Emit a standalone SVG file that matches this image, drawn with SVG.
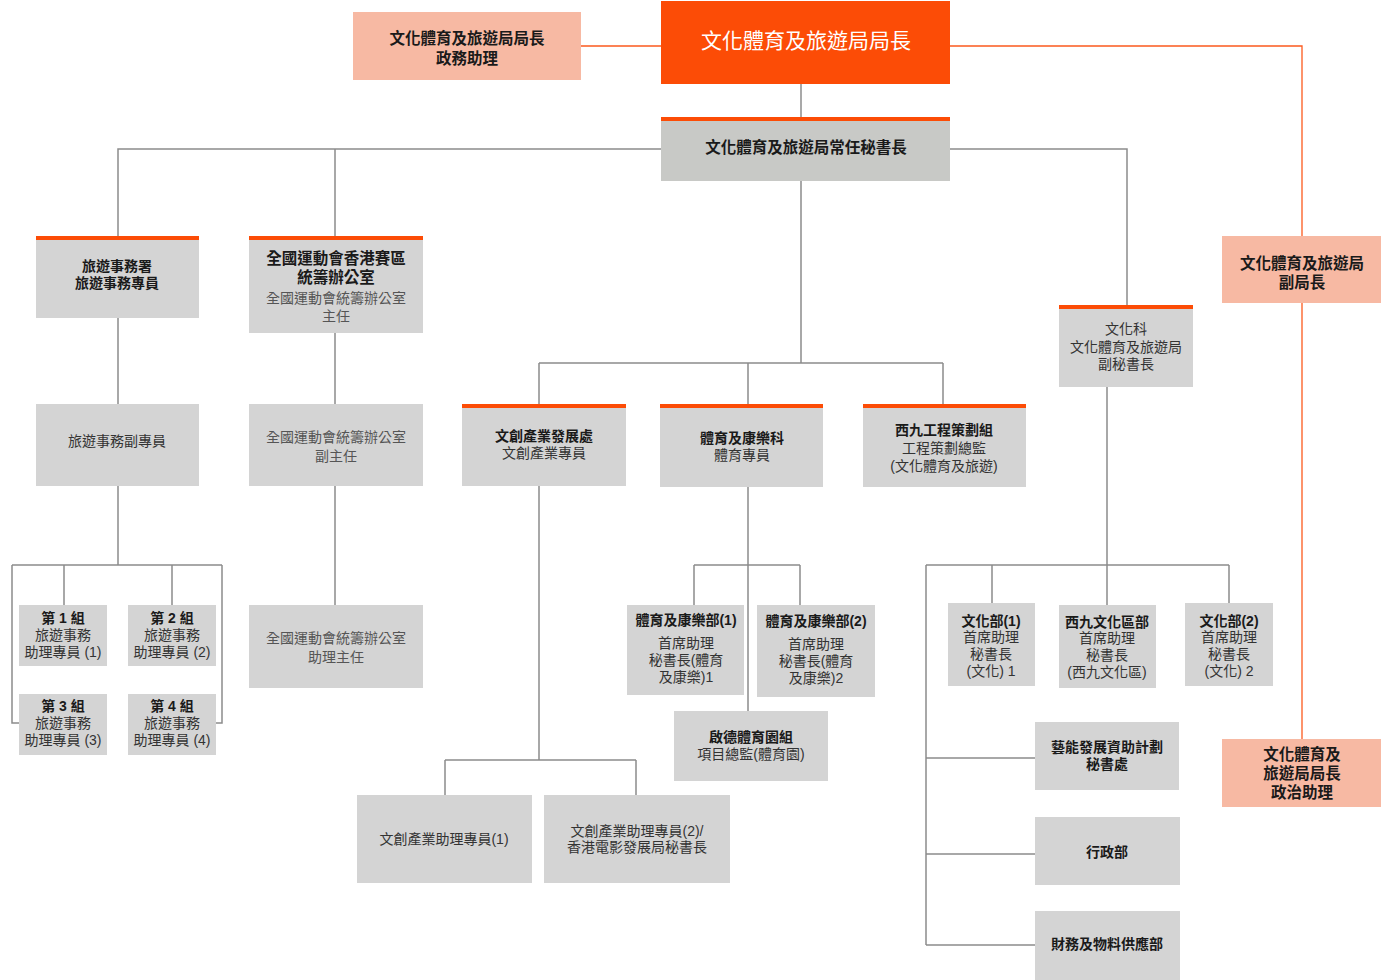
<svg xmlns="http://www.w3.org/2000/svg" width="1400" height="980" viewBox="0 0 1400 980">
<style>
text{font-family:"Liberation Sans","Noto Sans CJK TC",sans-serif;text-anchor:middle;font-size:14px;fill:#333}
.b{font-weight:bold;fill:#1a1a1a}
.l{fill:#555}
.w{fill:#fff;font-size:21px}
.big{font-size:15.5px}
.g{fill:#d4d4d4}
.g2{fill:#c8c9c6}
.s{fill:#f7b9a3}
.o{fill:#fc4c06}
.c{fill:none;stroke:#8c8c8c;stroke-width:1.5}
.co{fill:none;stroke:#fc5a1e;stroke-width:1.3}
</style>
<rect width="1400" height="980" fill="#fff"/>
<g id="connectors">
<path class="co" d="M581 46H661M950 46H1302V236M1302 303V739"/>
<path class="c" d="M801 84V117"/>
<path class="c" d="M661 149H118V236M335 149V236"/>
<path class="c" d="M950 149H1127V305"/>
<path class="c" d="M801 181V363M539 363H943M539 363V404M748 363V404M943 363V404"/>
<path class="c" d="M118 318V404M118 486V565M12 565H222M64 565V605M172 565V605M12 565V723H19M222 565V723H216"/>
<path class="c" d="M335 333V404M335 486V605"/>
<path class="c" d="M539 486V760M445 760H636M445 760V795M636 760V795"/>
<path class="c" d="M748 487V711M694 565H800M694 565V605M800 565V605"/>
<path class="c" d="M1107 387V605M926 565H1229M992 565V603M1229 565V603M926 565V945M926 758H1035M926 854H1035M926 945H1035"/>
</g>
<g id="chief"><rect class="o" x="661" y="1" width="289" height="83"/><text class="w" x="806" y="48">文化體育及旅遊局局長</text></g>
<g id="pa-left"><rect class="s" x="353" y="12" width="228" height="68"/><text class="b big" x="467" y="44">文化體育及旅遊局局長</text><text class="b big" x="467" y="64">政務助理</text></g>
<g id="deputy"><rect class="s" x="1222" y="236" width="159" height="67"/><text class="b big" x="1302" y="269">文化體育及旅遊局</text><text class="b big" x="1302" y="288">副局長</text></g>
<g id="pa-right"><rect class="s" x="1222" y="739" width="159" height="68"/><text class="b big" x="1302" y="760">文化體育及</text><text class="b big" x="1302" y="779">旅遊局局長</text><text class="b big" x="1302" y="798">政治助理</text></g>
<g id="permsec"><rect class="g2" x="661" y="117" width="289" height="64"/><rect class="o" x="661" y="117" width="289" height="4"/><text class="b big" x="806" y="153">文化體育及旅遊局常任秘書長</text></g>
<g id="tourism"><rect class="g" x="36" y="236" width="163" height="82"/><rect class="o" x="36" y="236" width="163" height="4"/><text class="b" x="117" y="271">旅遊事務署</text><text class="b" x="117" y="288">旅遊事務專員</text></g>
<g id="tourism-deputy"><rect class="g" x="36" y="404" width="163" height="82"/><text x="117" y="446">旅遊事務副專員</text></g>
<g id="team1"><rect class="g" x="19" y="605" width="88" height="61"/><text class="b" x="63" y="623">第 1 組</text><text x="63" y="640">旅遊事務</text><text x="63" y="657">助理專員 (1)</text></g>
<g id="team2"><rect class="g" x="128" y="605" width="88" height="61"/><text class="b" x="172" y="623">第 2 組</text><text x="172" y="640">旅遊事務</text><text x="172" y="657">助理專員 (2)</text></g>
<g id="team3"><rect class="g" x="19" y="694" width="88" height="61"/><text class="b" x="63" y="711">第 3 組</text><text x="63" y="728">旅遊事務</text><text x="63" y="745">助理專員 (3)</text></g>
<g id="team4"><rect class="g" x="128" y="694" width="88" height="61"/><text class="b" x="172" y="711">第 4 組</text><text x="172" y="728">旅遊事務</text><text x="172" y="745">助理專員 (4)</text></g>
<g id="natgames"><rect class="g" x="249" y="236" width="174" height="97"/><rect class="o" x="249" y="236" width="174" height="4"/><text class="b big" x="336" y="264">全國運動會香港賽區</text><text class="b big" x="336" y="283">統籌辦公室</text><text class="l" x="336" y="303">全國運動會統籌辦公室</text><text class="l" x="336" y="321">主任</text></g>
<g id="natgames-deputy"><rect class="g" x="249" y="404" width="174" height="82"/><text class="l" x="336" y="442">全國運動會統籌辦公室</text><text class="l" x="336" y="461">副主任</text></g>
<g id="natgames-assistant"><rect class="g" x="249" y="605" width="174" height="83"/><text class="l" x="336" y="643">全國運動會統籌辦公室</text><text class="l" x="336" y="662">助理主任</text></g>
<g id="creative"><rect class="g" x="462" y="404" width="164" height="82"/><rect class="o" x="462" y="404" width="164" height="4"/><text class="b" x="544" y="441">文創產業發展處</text><text x="544" y="458">文創產業專員</text></g>
<g id="creative-1"><rect class="g" x="357" y="795" width="175" height="88"/><text x="444" y="844">文創產業助理專員(1)</text></g>
<g id="creative-2"><rect class="g" x="544" y="795" width="186" height="88"/><text x="637" y="836">文創產業助理專員(2)/</text><text x="637" y="852">香港電影發展局秘書長</text></g>
<g id="sports"><rect class="g" x="660" y="404" width="163" height="83"/><rect class="o" x="660" y="404" width="163" height="4"/><text class="b" x="742" y="443">體育及康樂科</text><text x="742" y="460">體育專員</text></g>
<g id="sports-1"><rect class="g" x="627" y="605" width="117" height="90"/><text class="b" x="686" y="625">體育及康樂部(1)</text><text x="686" y="648">首席助理</text><text x="686" y="665">秘書長(體育</text><text x="686" y="682">及康樂)1</text></g>
<g id="sports-2"><rect class="g" x="757" y="605" width="118" height="92"/><text class="b" x="816" y="626">體育及康樂部(2)</text><text x="816" y="649">首席助理</text><text x="816" y="666">秘書長(體育</text><text x="816" y="683">及康樂)2</text></g>
<g id="kaitak"><rect class="g" x="674" y="711" width="154" height="70"/><text class="b" x="751" y="742">啟德體育園組</text><text x="751" y="759">項目總監(體育園)</text></g>
<g id="wk-project"><rect class="g" x="863" y="404" width="163" height="83"/><rect class="o" x="863" y="404" width="163" height="4"/><text class="b" x="944" y="435">西九工程策劃組</text><text x="944" y="453">工程策劃總監</text><text x="944" y="471">(文化體育及旅遊)</text></g>
<g id="culture"><rect class="g" x="1059" y="305" width="134" height="82"/><rect class="o" x="1059" y="305" width="134" height="4"/><text x="1126" y="334">文化科</text><text x="1126" y="352">文化體育及旅遊局</text><text x="1126" y="369">副秘書長</text></g>
<g id="culture-1"><rect class="g" x="948" y="603" width="87" height="83"/><text class="b" x="991" y="626">文化部(1)</text><text x="991" y="642">首席助理</text><text x="991" y="659">秘書長</text><text x="991" y="676">(文化) 1</text></g>
<g id="wkcd"><rect class="g" x="1059" y="605" width="97" height="83"/><text class="b" x="1107" y="627">西九文化區部</text><text x="1107" y="643">首席助理</text><text x="1107" y="660">秘書長</text><text x="1107" y="677">(西九文化區)</text></g>
<g id="culture-2"><rect class="g" x="1185" y="603" width="88" height="83"/><text class="b" x="1229" y="626">文化部(2)</text><text x="1229" y="642">首席助理</text><text x="1229" y="659">秘書長</text><text x="1229" y="676">(文化) 2</text></g>
<g id="arts-fund"><rect class="g" x="1035" y="722" width="144" height="68"/><text class="b" x="1107" y="752">藝能發展資助計劃</text><text class="b" x="1107" y="769">秘書處</text></g>
<g id="admin"><rect class="g" x="1035" y="817" width="145" height="68"/><text class="b" x="1107" y="857">行政部</text></g>
<g id="finance"><rect class="g" x="1035" y="911" width="145" height="69"/><text class="b" x="1107" y="949">財務及物料供應部</text></g>
</svg>
